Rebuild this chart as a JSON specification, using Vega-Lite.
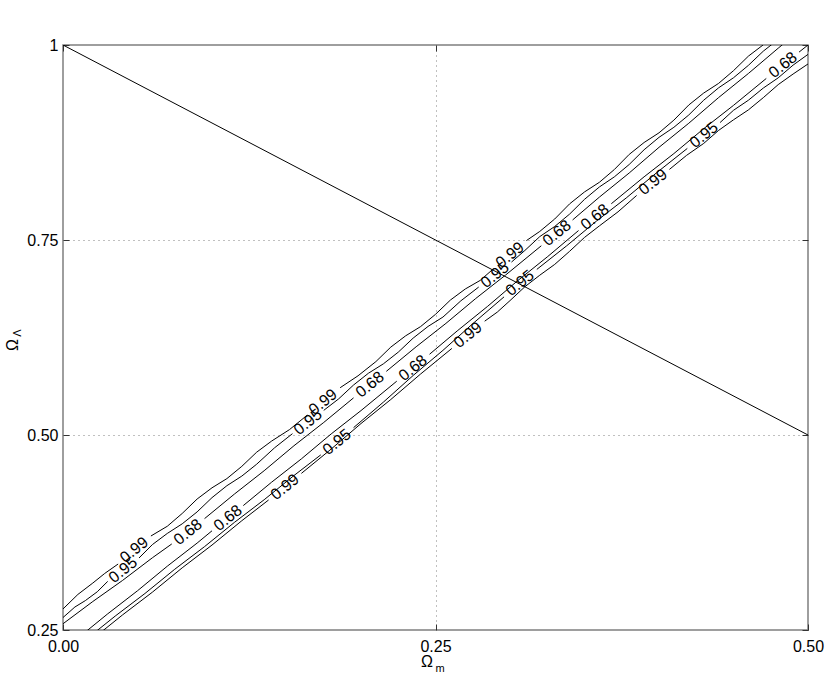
{
  "$schema": "https://vega.github.io/schema/vega-lite/v6.json",
  "width": 745,
  "height": 585,
  "autosize": "none",
  "padding": {"left": 63, "top": 45, "right": 22, "bottom": 52},
  "background": "white",
  "config": {
    "view": {"stroke": "#7f7f7f", "strokeWidth": 1.5},
    "font": "Liberation Sans",
    "axis": {
      "domain": false,
      "title": null,
      "labelFont": "Liberation Sans",
      "labelFontSize": 16,
      "labelColor": "black",
      "labelFlush": false,
      "tickColor": "#333333",
      "tickWidth": 1,
      "tickSize": -6,
      "gridColor": "#808080",
      "gridDash": [1, 4],
      "gridWidth": 1
    }
  },
  "datasets": {
    "contours": [
      {"seg": "u99a", "m": 0, "L": 0.277}, {"seg": "u99a", "m": 0.01, "L": 0.2956}, {"seg": "u99a", "m": 0.02, "L": 0.3102}, {"seg": "u99a", "m": 0.028, "L": 0.3225}, {"seg": "u99a", "m": 0.037, "L": 0.3346},
      {"seg": "u99b", "m": 0.059, "L": 0.3705}, {"seg": "u99b", "m": 0.07, "L": 0.383}, {"seg": "u99b", "m": 0.08, "L": 0.3994}, {"seg": "u99b", "m": 0.09, "L": 0.4179}, {"seg": "u99b", "m": 0.10, "L": 0.4323}, {"seg": "u99b", "m": 0.11, "L": 0.4441}, {"seg": "u99b", "m": 0.12, "L": 0.4598}, {"seg": "u99b", "m": 0.13, "L": 0.478}, {"seg": "u99b", "m": 0.14, "L": 0.4922}, {"seg": "u99b", "m": 0.152, "L": 0.5069}, {"seg": "u99b", "m": 0.164, "L": 0.5256},
      {"seg": "u99c", "m": 0.186, "L": 0.5606}, {"seg": "u99c", "m": 0.198, "L": 0.5759}, {"seg": "u99c", "m": 0.21, "L": 0.5941}, {"seg": "u99c", "m": 0.22, "L": 0.6127}, {"seg": "u99c", "m": 0.23, "L": 0.6272}, {"seg": "u99c", "m": 0.24, "L": 0.639}, {"seg": "u99c", "m": 0.25, "L": 0.6547}, {"seg": "u99c", "m": 0.26, "L": 0.673}, {"seg": "u99c", "m": 0.27, "L": 0.6872}, {"seg": "u99c", "m": 0.28, "L": 0.6982}, {"seg": "u99c", "m": 0.289, "L": 0.7133},
      {"seg": "u99d", "m": 0.311, "L": 0.7492}, {"seg": "u99d", "m": 0.32, "L": 0.761}, {"seg": "u99d", "m": 0.33, "L": 0.7769}, {"seg": "u99d", "m": 0.34, "L": 0.7963}, {"seg": "u99d", "m": 0.35, "L": 0.8116}, {"seg": "u99d", "m": 0.36, "L": 0.824}, {"seg": "u99d", "m": 0.37, "L": 0.8403}, {"seg": "u99d", "m": 0.38, "L": 0.8597}, {"seg": "u99d", "m": 0.39, "L": 0.875}, {"seg": "u99d", "m": 0.40, "L": 0.8874}, {"seg": "u99d", "m": 0.41, "L": 0.9037}, {"seg": "u99d", "m": 0.42, "L": 0.9231}, {"seg": "u99d", "m": 0.43, "L": 0.9384}, {"seg": "u99d", "m": 0.44, "L": 0.9508}, {"seg": "u99d", "m": 0.45, "L": 0.9671}, {"seg": "u99d", "m": 0.46, "L": 0.9857}, {"seg": "u99d", "m": 0.47, "L": 1.0003},

      {"seg": "u95a", "m": 0, "L": 0.266}, {"seg": "u95a", "m": 0.008, "L": 0.2795}, {"seg": "u95a", "m": 0.015, "L": 0.2877}, {"seg": "u95a", "m": 0.023, "L": 0.299}, {"seg": "u95a", "m": 0.03, "L": 0.3123},
      {"seg": "u95b", "m": 0.051, "L": 0.3423}, {"seg": "u95b", "m": 0.06, "L": 0.3595}, {"seg": "u95b", "m": 0.07, "L": 0.3738}, {"seg": "u95b", "m": 0.08, "L": 0.3861}, {"seg": "u95b", "m": 0.09, "L": 0.4014}, {"seg": "u95b", "m": 0.10, "L": 0.4197}, {"seg": "u95b", "m": 0.11, "L": 0.435}, {"seg": "u95b", "m": 0.12, "L": 0.4473}, {"seg": "u95b", "m": 0.13, "L": 0.4626}, {"seg": "u95b", "m": 0.142, "L": 0.4836}, {"seg": "u95b", "m": 0.154, "L": 0.5017},
      {"seg": "u95c", "m": 0.175, "L": 0.5316}, {"seg": "u95c", "m": 0.185, "L": 0.5463}, {"seg": "u95c", "m": 0.195, "L": 0.5641}, {"seg": "u95c", "m": 0.205, "L": 0.5792}, {"seg": "u95c", "m": 0.215, "L": 0.5912}, {"seg": "u95c", "m": 0.225, "L": 0.6062}, {"seg": "u95c", "m": 0.235, "L": 0.6242}, {"seg": "u95c", "m": 0.245, "L": 0.6392}, {"seg": "u95c", "m": 0.255, "L": 0.6512}, {"seg": "u95c", "m": 0.267, "L": 0.672}, {"seg": "u95c", "m": 0.279, "L": 0.6897},
      {"seg": "u95d", "m": 0.301, "L": 0.7217}, {"seg": "u95d", "m": 0.31, "L": 0.7366}, {"seg": "u95d", "m": 0.32, "L": 0.7544}, {"seg": "u95d", "m": 0.33, "L": 0.7673}, {"seg": "u95d", "m": 0.34, "L": 0.7832}, {"seg": "u95d", "m": 0.35, "L": 0.8021}, {"seg": "u95d", "m": 0.36, "L": 0.818}, {"seg": "u95d", "m": 0.37, "L": 0.8309}, {"seg": "u95d", "m": 0.38, "L": 0.8468}, {"seg": "u95d", "m": 0.39, "L": 0.8657}, {"seg": "u95d", "m": 0.40, "L": 0.8816}, {"seg": "u95d", "m": 0.41, "L": 0.8945}, {"seg": "u95d", "m": 0.42, "L": 0.9103}, {"seg": "u95d", "m": 0.43, "L": 0.9292}, {"seg": "u95d", "m": 0.44, "L": 0.9451}, {"seg": "u95d", "m": 0.45, "L": 0.958}, {"seg": "u95d", "m": 0.46, "L": 0.9739}, {"seg": "u95d", "m": 0.47, "L": 0.9921}, {"seg": "u95d", "m": 0.48, "L": 1.0072},

      {"seg": "u68a", "m": 0, "L": 0.258}, {"seg": "u68a", "m": 0.02, "L": 0.2865}, {"seg": "u68a", "m": 0.04, "L": 0.3136}, {"seg": "u68a", "m": 0.06, "L": 0.3426}, {"seg": "u68a", "m": 0.073, "L": 0.3603},
      {"seg": "u68b", "m": 0.095, "L": 0.3928}, {"seg": "u68b", "m": 0.115, "L": 0.4242}, {"seg": "u68b", "m": 0.135, "L": 0.4542}, {"seg": "u68b", "m": 0.155, "L": 0.4862}, {"seg": "u68b", "m": 0.175, "L": 0.5161}, {"seg": "u68b", "m": 0.195, "L": 0.5476},
      {"seg": "u68c", "m": 0.217, "L": 0.5816}, {"seg": "u68c", "m": 0.237, "L": 0.6131}, {"seg": "u68c", "m": 0.257, "L": 0.6431}, {"seg": "u68c", "m": 0.277, "L": 0.675}, {"seg": "u68c", "m": 0.297, "L": 0.705}, {"seg": "u68c", "m": 0.321, "L": 0.7426},
      {"seg": "u68d", "m": 0.342, "L": 0.7757}, {"seg": "u68d", "m": 0.36, "L": 0.805}, {"seg": "u68d", "m": 0.38, "L": 0.8359}, {"seg": "u68d", "m": 0.40, "L": 0.8688}, {"seg": "u68d", "m": 0.42, "L": 0.8997}, {"seg": "u68d", "m": 0.44, "L": 0.9326}, {"seg": "u68d", "m": 0.46, "L": 0.9635}, {"seg": "u68d", "m": 0.48, "L": 0.9959}, {"seg": "u68d", "m": 0.49, "L": 1.0118},

      {"seg": "l68a", "m": 0.01, "L": 0.2396}, {"seg": "l68a", "m": 0.03, "L": 0.2707}, {"seg": "l68a", "m": 0.05, "L": 0.3003}, {"seg": "l68a", "m": 0.07, "L": 0.3318}, {"seg": "l68a", "m": 0.09, "L": 0.3614}, {"seg": "l68a", "m": 0.1, "L": 0.3772},
      {"seg": "l68b", "m": 0.121, "L": 0.4095}, {"seg": "l68b", "m": 0.14, "L": 0.4395}, {"seg": "l68b", "m": 0.16, "L": 0.4694}, {"seg": "l68b", "m": 0.18, "L": 0.5014}, {"seg": "l68b", "m": 0.2, "L": 0.5313}, {"seg": "l68b", "m": 0.224, "L": 0.569},
      {"seg": "l68c", "m": 0.246, "L": 0.6035}, {"seg": "l68c", "m": 0.265, "L": 0.6341}, {"seg": "l68c", "m": 0.285, "L": 0.665}, {"seg": "l68c", "m": 0.305, "L": 0.6976}, {"seg": "l68c", "m": 0.325, "L": 0.7283}, {"seg": "l68c", "m": 0.346, "L": 0.7621},
      {"seg": "l68d", "m": 0.368, "L": 0.7965}, {"seg": "l68d", "m": 0.39, "L": 0.831}, {"seg": "l68d", "m": 0.41, "L": 0.8608}, {"seg": "l68d", "m": 0.43, "L": 0.8927}, {"seg": "l68d", "m": 0.45, "L": 0.9226}, {"seg": "l68d", "m": 0.472, "L": 0.9571},
      {"seg": "l68e", "m": 0.494, "L": 0.9909}, {"seg": "l68e", "m": 0.51, "L": 1.0152},

      {"seg": "l95a", "m": 0.015, "L": 0.2372}, {"seg": "l95a", "m": 0.035, "L": 0.2678}, {"seg": "l95a", "m": 0.055, "L": 0.2968}, {"seg": "l95a", "m": 0.075, "L": 0.3279}, {"seg": "l95a", "m": 0.095, "L": 0.3569}, {"seg": "l95a", "m": 0.115, "L": 0.3879}, {"seg": "l95a", "m": 0.135, "L": 0.417}, {"seg": "l95a", "m": 0.155, "L": 0.448}, {"seg": "l95a", "m": 0.173, "L": 0.4745},
      {"seg": "l95b", "m": 0.195, "L": 0.5094}, {"seg": "l95b", "m": 0.215, "L": 0.5421}, {"seg": "l95b", "m": 0.235, "L": 0.5763}, {"seg": "l95b", "m": 0.255, "L": 0.6085}, {"seg": "l95b", "m": 0.275, "L": 0.6427}, {"seg": "l95b", "m": 0.296, "L": 0.6771},
      {"seg": "l95c", "m": 0.318, "L": 0.7123}, {"seg": "l95c", "m": 0.338, "L": 0.7425}, {"seg": "l95c", "m": 0.358, "L": 0.7742}, {"seg": "l95c", "m": 0.378, "L": 0.8039}, {"seg": "l95c", "m": 0.398, "L": 0.8356}, {"seg": "l95c", "m": 0.419, "L": 0.8674},
      {"seg": "l95d", "m": 0.441, "L": 0.9006}, {"seg": "l95d", "m": 0.45, "L": 0.9163}, {"seg": "l95d", "m": 0.46, "L": 0.9292}, {"seg": "l95d", "m": 0.47, "L": 0.9448}, {"seg": "l95d", "m": 0.48, "L": 0.9579}, {"seg": "l95d", "m": 0.49, "L": 0.9742}, {"seg": "l95d", "m": 0.5, "L": 0.988}, {"seg": "l95d", "m": 0.51, "L": 1.0028},

      {"seg": "l99a", "m": 0.02, "L": 0.2387}, {"seg": "l99a", "m": 0.04, "L": 0.2694}, {"seg": "l99a", "m": 0.06, "L": 0.2985}, {"seg": "l99a", "m": 0.08, "L": 0.3297}, {"seg": "l99a", "m": 0.1, "L": 0.3589}, {"seg": "l99a", "m": 0.12, "L": 0.3901}, {"seg": "l99a", "m": 0.138, "L": 0.4167},
      {"seg": "l99b", "m": 0.16, "L": 0.4508}, {"seg": "l99b", "m": 0.18, "L": 0.482}, {"seg": "l99b", "m": 0.2, "L": 0.5147}, {"seg": "l99b", "m": 0.22, "L": 0.5455}, {"seg": "l99b", "m": 0.24, "L": 0.5782}, {"seg": "l99b", "m": 0.261, "L": 0.611},
      {"seg": "l99c", "m": 0.283, "L": 0.6459}, {"seg": "l99c", "m": 0.2915, "L": 0.6576}, {"seg": "l99c", "m": 0.3, "L": 0.6723}, {"seg": "l99c", "m": 0.31, "L": 0.6901}, {"seg": "l99c", "m": 0.32, "L": 0.7049}, {"seg": "l99c", "m": 0.33, "L": 0.7187}, {"seg": "l99c", "m": 0.34, "L": 0.7355}, {"seg": "l99c", "m": 0.35, "L": 0.7533}, {"seg": "l99c", "m": 0.36, "L": 0.7681}, {"seg": "l99c", "m": 0.3725, "L": 0.7861}, {"seg": "l99c", "m": 0.385, "L": 0.8071},
      {"seg": "l99d", "m": 0.407, "L": 0.8405}, {"seg": "l99d", "m": 0.4185, "L": 0.8585}, {"seg": "l99d", "m": 0.43, "L": 0.8738}, {"seg": "l99d", "m": 0.44, "L": 0.8905}, {"seg": "l99d", "m": 0.45, "L": 0.9041}, {"seg": "l99d", "m": 0.46, "L": 0.9168}, {"seg": "l99d", "m": 0.47, "L": 0.9325}, {"seg": "l99d", "m": 0.48, "L": 0.9492}, {"seg": "l99d", "m": 0.49, "L": 0.9628}, {"seg": "l99d", "m": 0.5, "L": 0.9757}, {"seg": "l99d", "m": 0.51, "L": 0.9916}
    ],
    "labels": [
      {"m": 0.0477, "L": 0.3526, "t": "0.99"}, {"m": 0.1745, "L": 0.5423, "t": "0.99"}, {"m": 0.3, "L": 0.7308, "t": "0.99"},
      {"m": 0.0403, "L": 0.3269, "t": "0.95"}, {"m": 0.1644, "L": 0.5167, "t": "0.95"}, {"m": 0.2899, "L": 0.7051, "t": "0.95"},
      {"m": 0.0839, "L": 0.3756, "t": "0.68"}, {"m": 0.206, "L": 0.5646, "t": "0.68"}, {"m": 0.3315, "L": 0.759, "t": "0.68"},
      {"m": 0.1107, "L": 0.3936, "t": "0.68"}, {"m": 0.2349, "L": 0.5859, "t": "0.68"}, {"m": 0.357, "L": 0.7795, "t": "0.68"}, {"m": 0.4832, "L": 0.9744, "t": "0.68"},
      {"m": 0.1839, "L": 0.491, "t": "0.95"}, {"m": 0.3067, "L": 0.6949, "t": "0.95"}, {"m": 0.4302, "L": 0.8846, "t": "0.95"},
      {"m": 0.149, "L": 0.4333, "t": "0.99"}, {"m": 0.2718, "L": 0.6282, "t": "0.99"}, {"m": 0.396, "L": 0.8244, "t": "0.99"}
    ],
    "flat": [{"m": 0, "L": 1}, {"m": 0.5, "L": 0.5}],
    "titles": [
      {"m": 0.25, "L": 0.25, "t": "Ω", "s": "main", "side": "x"},
      {"m": 0.25, "L": 0.25, "t": "m", "s": "sub", "side": "x"},
      {"m": 0, "L": 0.625, "t": "Ω", "s": "main", "side": "y"},
      {"m": 0, "L": 0.625, "t": "Λ", "s": "sub", "side": "y"}
    ]
  },
  "resolve": {"axis": {"x": "independent", "y": "independent"}},
  "layer": [
    {
      "data": {"name": "contours"},
      "mark": {"type": "line", "color": "black", "strokeWidth": 1, "clip": true, "interpolate": "linear"},
      "encoding": {
        "x": {"field": "m", "type": "quantitative",
          "scale": {"domain": [0, 0.5], "nice": false, "zero": false},
          "axis": {"orient": "bottom", "values": [0, 0.25, 0.5], "format": ".2f", "grid": true, "labelPadding": 14, "labelFontSize": 16,
            "gridOpacity": {"condition": {"test": "datum.value == 0.25", "value": 1}, "value": 0}}},
        "y": {"field": "L", "type": "quantitative",
          "scale": {"domain": [0.25, 1], "nice": false, "zero": false},
          "axis": {"orient": "left", "values": [0.25, 0.5, 0.75, 1], "labelExpr": "datum.value == 1 ? '1' : format(datum.value, '.2f')", "grid": true, "labelPadding": 11, "labelFontSize": 16,
            "gridOpacity": {"condition": {"test": "datum.value == 0.5 || datum.value == 0.75", "value": 1}, "value": 0}}},
        "detail": {"field": "seg", "type": "nominal"}
      }
    },
    {
      "data": {"name": "flat"},
      "mark": {"type": "line", "color": "black", "strokeWidth": 1, "clip": true},
      "encoding": {
        "x": {"field": "m", "type": "quantitative",
          "axis": {"orient": "top", "values": [0, 0.25, 0.5], "labels": false, "grid": false}},
        "y": {"field": "L", "type": "quantitative",
          "axis": {"orient": "right", "values": [0.25, 0.5, 0.75, 1], "labels": false, "grid": false}}
      }
    },
    {
      "data": {"name": "labels"},
      "mark": {"type": "text", "angle": 321, "align": "center", "baseline": "middle", "fontSize": 16, "font": "Liberation Sans", "color": "black"},
      "encoding": {
        "x": {"field": "m", "type": "quantitative", "axis": null},
        "y": {"field": "L", "type": "quantitative", "axis": null},
        "text": {"field": "t", "type": "nominal"}
      }
    },
    {
      "data": {"name": "titles"},
      "transform": [{"filter": "datum.side == 'x' && datum.s == 'main'"}],
      "mark": {"type": "text", "fontSize": 16, "align": "center", "baseline": "middle", "dx": -8.5, "dy": 32, "color": "black"},
      "encoding": {"x": {"field": "m", "type": "quantitative", "axis": null}, "y": {"field": "L", "type": "quantitative", "axis": null}, "text": {"field": "t", "type": "nominal"}}
    },
    {
      "data": {"name": "titles"},
      "transform": [{"filter": "datum.side == 'x' && datum.s == 'sub'"}],
      "mark": {"type": "text", "fontSize": 11, "align": "center", "baseline": "middle", "dx": 4.5, "dy": 39, "color": "black"},
      "encoding": {"x": {"field": "m", "type": "quantitative", "axis": null}, "y": {"field": "L", "type": "quantitative", "axis": null}, "text": {"field": "t", "type": "nominal"}}
    },
    {
      "data": {"name": "titles"},
      "transform": [{"filter": "datum.side == 'y' && datum.s == 'main'"}],
      "mark": {"type": "text", "fontSize": 16, "align": "center", "baseline": "middle", "angle": 270, "dx": -7.5, "dy": -50, "color": "black"},
      "encoding": {"x": {"field": "m", "type": "quantitative", "axis": null}, "y": {"field": "L", "type": "quantitative", "axis": null}, "text": {"field": "t", "type": "nominal"}}
    },
    {
      "data": {"name": "titles"},
      "transform": [{"filter": "datum.side == 'y' && datum.s == 'sub'"}],
      "mark": {"type": "text", "fontSize": 11, "align": "center", "baseline": "middle", "angle": 270, "dx": 4.5, "dy": -45, "color": "black"},
      "encoding": {"x": {"field": "m", "type": "quantitative", "axis": null}, "y": {"field": "L", "type": "quantitative", "axis": null}, "text": {"field": "t", "type": "nominal"}}
    }
  ]
}
